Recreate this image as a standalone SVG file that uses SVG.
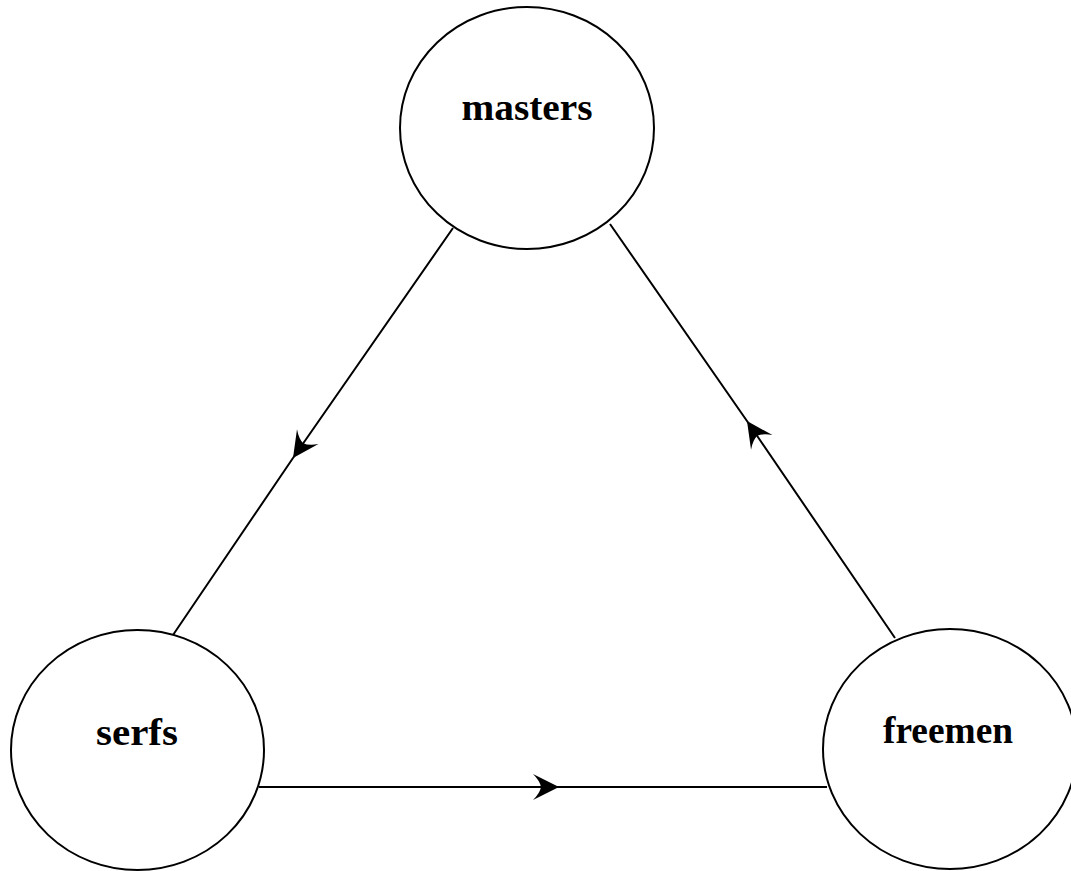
<svg xmlns="http://www.w3.org/2000/svg" width="1071" height="871" viewBox="0 0 1071 871">
<style>
.node{fill:#fff;stroke:#000;stroke-width:2}
.lbl{font-family:"Liberation Serif","DejaVu Serif",serif;font-weight:bold;font-size:38px;fill:#000;text-anchor:middle}
.edge{fill:none;stroke:#000;stroke-width:2}
</style>
<defs>
<marker id="arr" markerUnits="userSpaceOnUse" markerWidth="40" markerHeight="40" viewBox="-30 -20 40 40" refX="0" refY="0" orient="auto">
<path d="M0,0 L-26,-13 Q-19,-6 -18,0 Q-19,6 -26,13 Z" fill="#000"/>
</marker>
</defs>
<rect width="1071" height="871" fill="#fff"/>
<g id="connectors">
<path class="edge" d="M453,228 L293,458 L173,635" marker-mid="url(#arr)"/>
<path class="edge" d="M259,787 L559,787 L827,787" marker-mid="url(#arr)"/>
<path class="edge" d="M895,638 L747,421 L610,224" marker-mid="url(#arr)"/>
</g>
<g id="masters">
<ellipse class="node" cx="527" cy="128" rx="127" ry="121"/>
<text class="lbl" x="527" y="120" textLength="131" lengthAdjust="spacingAndGlyphs">masters</text>
</g>
<g id="serfs">
<ellipse class="node" cx="137.5" cy="750" rx="126.5" ry="120"/>
<text class="lbl" x="137" y="745" textLength="82" lengthAdjust="spacingAndGlyphs">serfs</text>
</g>
<g id="freemen">
<ellipse class="node" cx="950" cy="749" rx="127" ry="120"/>
<text class="lbl" x="948" y="743" textLength="130" lengthAdjust="spacingAndGlyphs">freemen</text>
</g>
</svg>
